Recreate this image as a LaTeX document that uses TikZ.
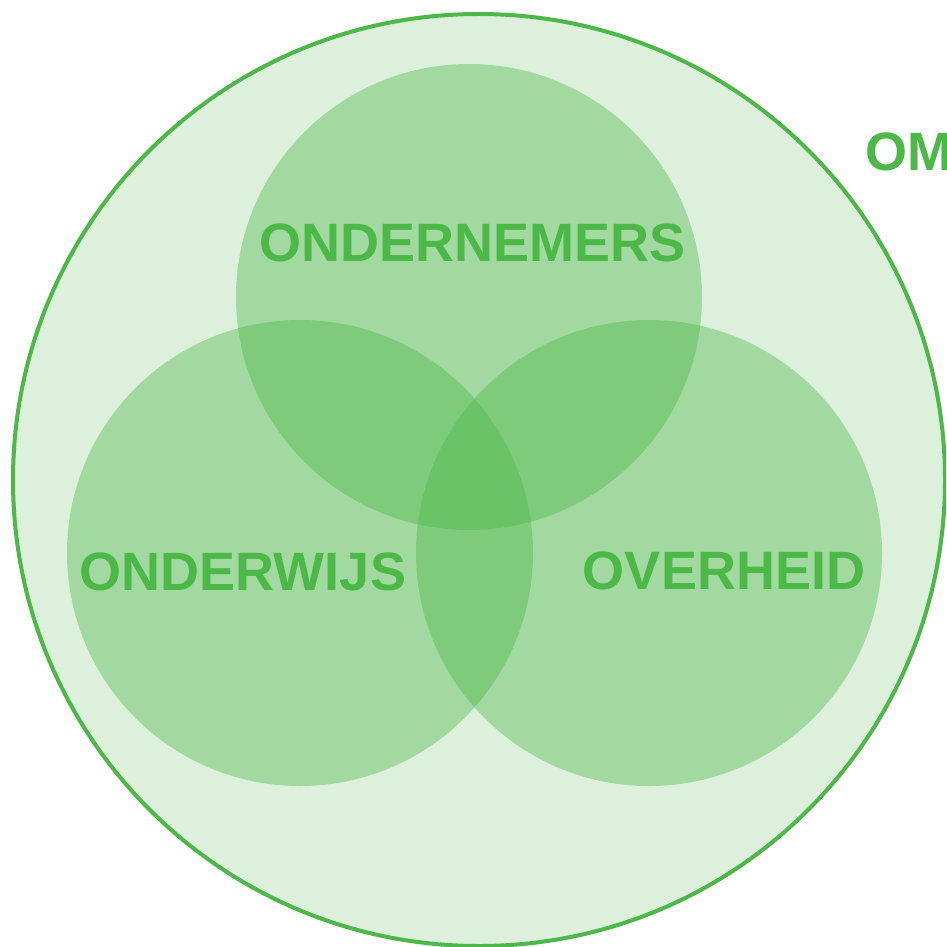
\documentclass[tikz,border=0pt]{standalone}
\usepackage{fontspec}
\setmainfont{Liberation Sans}
\usepackage{xcolor}
\usetikzlibrary{positioning}
\definecolor{vgreen}{HTML}{4CB848}
\definecolor{vlight}{HTML}{DCF0DC}

\begin{document}
\begin{tikzpicture}[
    x=1pt, y=-1pt,
    outer/.style={circle, draw=vgreen, line width=4pt, fill=vlight, minimum size=932pt, inner sep=0pt},
    sector/.style={circle, fill=vgreen, fill opacity=0.4, minimum size=466pt, inner sep=0pt},
    label/.style={text=vgreen, font=\fontsize{54}{54}\selectfont\bfseries, inner sep=0pt}
]
\useasboundingbox (0,0) rectangle (946,947);
\clip (0,0) rectangle (946,947);

% outer circle
\node[outer] (omgeving) at (479,480) {};

% the three circles
\node[sector] (top) at (469,297) {};
\node[sector] (left) at (300,553) {};
\node[sector] (right) at (649,553) {};

% labels
\node[label] (ondernemers) at (473,243) {ONDERNEMERS};
\node[label] (onderwijs) at (243,572) {ONDERWIJS};
\node[label] (overheid) at (724,571) {OVERHEID};
\node[label, anchor=west] (om) at (865,152) {OM};

\end{tikzpicture}
\end{document}
